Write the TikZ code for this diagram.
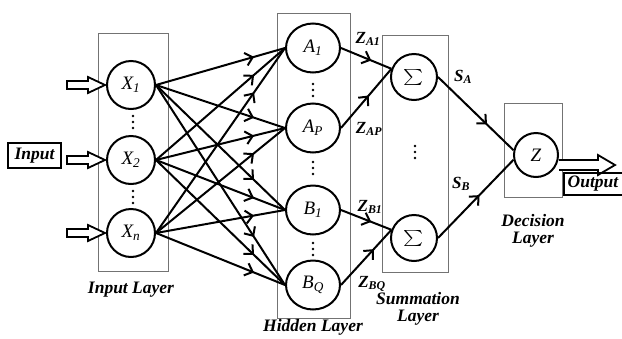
\documentclass[tikz,border=0pt]{standalone}
\usepackage{fontspec}
\usepackage{graphicx}
\setmainfont{Liberation Serif}
\usetikzlibrary{arrows.meta,decorations.markings,shapes.geometric}
\begin{document}
\begin{tikzpicture}[x=1pt,y=-1pt,
  layerbox/.style={draw=black!55, line width=0.9pt},
  nrn/.style={circle, draw, line width=2pt, minimum size=48pt, inner sep=0pt,
    font=\fontsize{19}{22}\selectfont\itshape},
  hnrn/.style={nrn, ellipse, minimum width=54pt, minimum height=49pt},
  snrn/.style={nrn, minimum size=46pt, font=\fontsize{10}{12}\selectfont},
  conn/.style={line width=2pt,
    decoration={markings, mark=at position #1 with {\arrow{Straight Barb[length=7pt,width=13pt,line width=2pt]}}},
    postaction={decorate}},
  conn/.default=0.76,
  hollow/.style={draw, line width=1.8pt, fill=white, line join=miter},
  lbl/.style={font=\fontsize{17.5}{20}\selectfont\bfseries\itshape, inner sep=0pt},
  zlbl/.style={font=\fontsize{17}{20}\selectfont\bfseries\itshape, inner sep=0pt},
  dotc/.style={fill=black, circle, inner sep=0pt, minimum size=2.6pt}
]
\useasboundingbox (0,0) rectangle (622,338);

% layer boxes
\draw[layerbox] (98,33) rectangle (168,271);
\draw[layerbox] (277,13) rectangle (350,318);
\draw[layerbox] (382,35) rectangle (448,272);
\draw[layerbox] (504,103) rectangle (562,197);

% input layer
\node[nrn] (x1) at (131,85) {X\textsubscript{1}};
\node[nrn] (x2) at (131,160) {X\textsubscript{2}};
\node[nrn] (xn) at (131,233) {X\textsubscript{n}};

% hidden layer
\node[hnrn] (a1) at (313,48) {A\textsubscript{1}};
\node[hnrn] (ap) at (313,128) {A\textsubscript{P}};
\node[hnrn] (b1) at (313,210) {B\textsubscript{1}};
\node[hnrn] (bq) at (313,285) {B\textsubscript{Q}};

% summation layer
\node[snrn] (s1) at (414,77) {\scalebox{1.9}[1.6]{$\sum$}};
\node[snrn] (s2) at (414,238) {\scalebox{1.9}[1.6]{$\sum$}};

% decision
\node[nrn, minimum size=44pt] (z) at (536,155) {Z};

% dots
\foreach \y in {116,122,128} \node[dotc] at (133,\y) {};
\foreach \y in {191,197,203} \node[dotc] at (133,\y) {};
\foreach \y in {84,90,96} \node[dotc] at (313,\y) {};
\foreach \y in {162,168,174} \node[dotc] at (313,\y) {};
\foreach \y in {243,249,255} \node[dotc] at (313,\y) {};
\foreach \y in {146,152,158} \node[dotc] at (415,\y) {};

% input -> hidden
\foreach \s in {x1,x2,xn}
  \foreach \t in {a1,ap,b1,bq}
    \draw[conn] (\s.east) -- (\t.west);

% hidden -> summation
\draw[conn=0.6] (a1.east) -- (s1.160);
\draw[conn=0.55] (ap.east) -- (s1.160);
\draw[conn=0.6] (b1.east) -- (s2.160);
\draw[conn=0.65] (bq.east) -- (s2.160);

% summation -> decision
\draw[conn=0.65] (s1.east) -- (z.168);
\draw[conn=0.55] (s2.east) -- (z.192);

% input box and hollow arrows
\node[draw, line width=1.8pt, minimum width=53pt, minimum height=25pt, inner sep=0pt,
  font=\fontsize{17.5}{20}\selectfont\bfseries\itshape] (inbox) at (34.5,155.5) {Input};
\foreach \n in {x1,x2,xn}
  \draw[hollow] ([xshift=-1pt]\n.west) -- ++(-17,-8) -- ++(0,4) -- ++(-21,0)
     -- ++(0,8) -- ++(21,0) -- ++(0,4) -- cycle;

% output
\draw[hollow] ([yshift=-5pt]z.east) -- ++(39,0) -- ++(0,-5) -- ++(17,10)
   -- ++(-17,10) -- ++(0,-5) -- ++(-39,0);
\draw[line width=1.8pt] (564,173) rectangle (630,195);
\node[lbl] (outlbl) at (593,184) {Output};

% weight labels
\node[zlbl] (za1) at (368,39) {Z\textsubscript{A1}};
\node[zlbl] (zap) at (369,129) {Z\textsubscript{AP}};
\node[zlbl] (zb1) at (370,207) {Z\textsubscript{B1}};
\node[zlbl] (zbq) at (372,284) {Z\textsubscript{BQ}};
\node[zlbl] (sa) at (463,77) {S\textsubscript{A}};
\node[zlbl] (sb) at (461,184) {S\textsubscript{B}};

% layer labels
\node[lbl] (lin) at (131,290) {Input Layer};
\node[lbl] (lhid) at (313,327) {Hidden Layer};
\node[lbl, align=center] (lsum) at (418,309) {Summation\\[-3pt]Layer};
\node[lbl, align=center] (ldec) at (533,231) {Decision\\[-3pt]Layer};
\end{tikzpicture}
\end{document}
